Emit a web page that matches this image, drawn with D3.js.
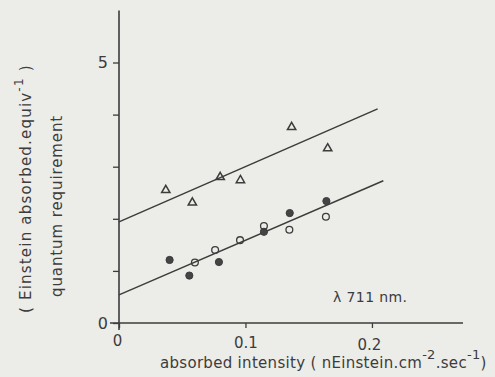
<!DOCTYPE html>
<html>
<head>
<meta charset="utf-8">
<script src="https://cdn.jsdelivr.net/npm/d3@7"></script>
<style>
  body { margin: 0; background: #ecece8; }
  svg { display: block; }
  text { font-family: "DejaVu Sans", sans-serif; fill: #3c3c3c; }
</style>
</head>
<body>
<div id="chart"></div>
<script>
// triangles
var triX = [0.037, 0.058, 0.080, 0.096, 0.1365, 0.165];
var triY = [2.55, 2.31, 2.80, 2.74, 3.76, 3.35];
// filled circles
var dotX = [0.040, 0.0556, 0.079, 0.1146, 0.135, 0.164];
var dotY = [1.21, 0.91, 1.17, 1.75, 2.11, 2.34];
// open circles
var ringX = [0.060, 0.076, 0.0957, 0.1146, 0.1347, 0.1636];
var ringY = [1.16, 1.40, 1.59, 1.86, 1.79, 2.04];
// fitted lines [x0, y0, x1, y1]
var upperLine = [0, 1.94, 0.2045, 4.11];
var lowerLine = [0, 0.54, 0.209, 2.73];

var xTicks = [0, 0.1, 0.2];
var yTicks = [0, 1, 2, 3, 4, 5];
var yTickLabels = ["0", "", "", "", "", "5"];

var width = 495, height = 377;
var ink = "#3c3c3c";

var svg = d3.select("#chart").append("svg")
  .attr("width", width)
  .attr("height", height);

var x = d3.scaleLinear().domain([0, 0.272]).range([119, 463]);
var y = d3.scaleLinear().domain([0, 6]).range([323, 10.4]);

// y axis
var yAxis = svg.append("g")
  .attr("transform", "translate(" + x(0) + ",0)")
  .call(d3.axisLeft(y).tickValues(yTicks).tickSize(6).tickSizeOuter(0)
    .tickFormat(function (d, i) { return yTickLabels[i]; }));
yAxis.select(".domain").remove();
yAxis.append("line")
  .attr("y1", y(6)).attr("y2", 330)
  .attr("stroke", ink).attr("stroke-width", 1.6);
yAxis.selectAll(".tick line").attr("stroke", ink).attr("stroke-width", 1.3);
yAxis.selectAll(".tick text")
  .attr("x", -11)
  .style("font-size", "16px")
  .style("font-family", "DejaVu Sans, sans-serif")
  .attr("fill", ink);

// x axis
var xAxis = svg.append("g")
  .attr("transform", "translate(0," + y(0) + ")")
  .call(d3.axisBottom(x).tickValues(xTicks).tickSize(5).tickSizeOuter(0)
    .tickFormat(function (d) { return d === 0 ? "0" : d3.format(".1f")(d); }));
xAxis.select(".domain").remove();
xAxis.append("line")
  .attr("x1", 110).attr("x2", x(0.272))
  .attr("stroke", ink).attr("stroke-width", 1.6);
xAxis.selectAll(".tick line").attr("stroke", ink).attr("stroke-width", 1.3);
xAxis.selectAll(".tick text")
  .attr("y", 14)
  .style("font-size", "15px")
  .style("font-family", "DejaVu Sans, sans-serif")
  .attr("fill", ink);
xAxis.selectAll(".tick").filter(function (d) { return d === 0; })
  .select("text").attr("x", -2).attr("y", 12);
xAxis.selectAll(".tick").filter(function (d) { return d === 0.2; })
  .select("text").attr("x", -3).attr("y", 16);

// fitted lines
[upperLine, lowerLine].forEach(function (l) {
  svg.append("line")
    .attr("x1", x(l[0])).attr("y1", y(l[1]))
    .attr("x2", x(l[2])).attr("y2", y(l[3]))
    .attr("stroke", ink).attr("stroke-width", 1.5);
});

// triangles
svg.selectAll(".tri")
  .data(d3.zip(triX, triY)).enter()
  .append("path")
  .attr("class", "tri")
  .attr("d", d3.symbol().type(d3.symbolTriangle).size(30))
  .attr("transform", function (d) { return "translate(" + x(d[0]) + "," + y(d[1]) + ")"; })
  .attr("fill", "none").attr("stroke", ink).attr("stroke-width", 1.5);

// filled circles
svg.selectAll(".dot")
  .data(d3.zip(dotX, dotY)).enter()
  .append("circle")
  .attr("class", "dot")
  .attr("cx", function (d) { return x(d[0]); })
  .attr("cy", function (d) { return y(d[1]); })
  .attr("r", 3.6)
  .attr("fill", "#444").attr("stroke", ink).attr("stroke-width", 1);

// open circles
svg.selectAll(".ring")
  .data(d3.zip(ringX, ringY)).enter()
  .append("circle")
  .attr("class", "ring")
  .attr("cx", function (d) { return x(d[0]); })
  .attr("cy", function (d) { return y(d[1]); })
  .attr("r", 3.4)
  .attr("fill", "none").attr("stroke", ink).attr("stroke-width", 1.3);

// wavelength note
svg.append("text")
  .attr("x", 333).attr("y", 302)
  .style("font-size", "14px")
  .style("letter-spacing", "0.4px")
  .text("\u03bb 711 nm.");

// x title
var xt = svg.append("text")
  .attr("x", 160).attr("y", 368)
  .style("font-size", "15px")
  .style("letter-spacing", "0.3px");
xt.append("tspan").text("absorbed  intensity ( nEinstein.cm");
xt.append("tspan").attr("dy", -9).style("font-size", "13px").text("-2");
xt.append("tspan").attr("dy", 9).text(".sec");
xt.append("tspan").attr("dy", -9).style("font-size", "13px").text("-1");
xt.append("tspan").attr("dy", 9).text(")");

// y titles
var yt = svg.append("text")
  .attr("transform", "translate(31,313) rotate(-90)")
  .style("font-size", "15px")
  .style("letter-spacing", "1.2px");
yt.append("tspan").text("( Einstein absorbed.equiv");
yt.append("tspan").attr("dy", -8).style("font-size", "12px").text("-1");
yt.append("tspan").attr("dy", 8).text(" )");

svg.append("text")
  .attr("transform", "translate(62,297) rotate(-90)")
  .style("font-size", "15px")
  .style("letter-spacing", "0.9px")
  .text("quantum  requirement");
</script>
</body>
</html>
